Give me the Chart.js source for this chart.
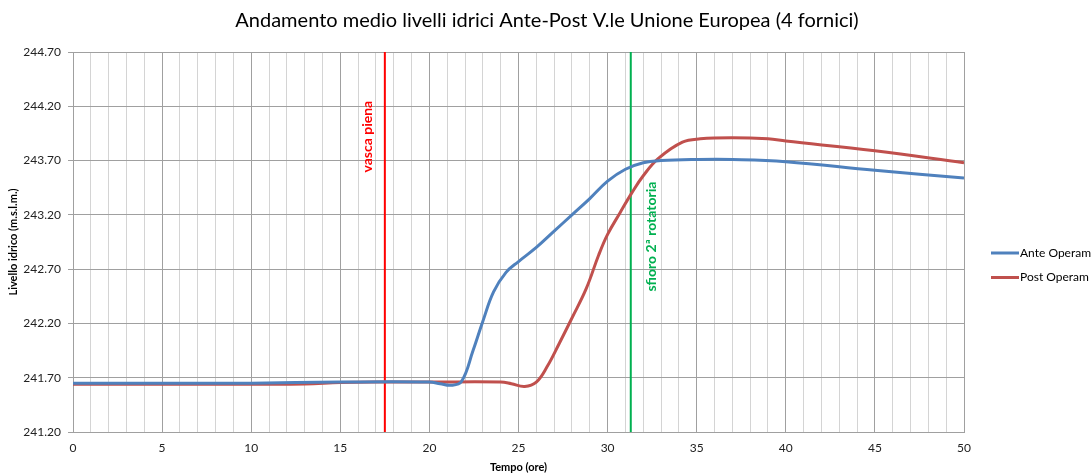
<!DOCTYPE html>
<html>
<head>
<meta charset="utf-8">
<script src="https://cdn.jsdelivr.net/npm/chart.js@4"></script>
<style>
  html, body { margin: 0; padding: 0; background: #fff; }
  #wrap { width: 1091px; height: 475px; }
</style>
</head>
<body>
<div id="wrap"><canvas id="grafico" width="1091" height="475"></canvas></div>
<script>
// dati
const anteOre = [0, 5, 10, 15, 20, 20.6, 21.2, 21.8, 22.45, 23.0, 23.6, 24.3, 25.0, 26.0, 27.0, 28.0, 29.0, 30.0, 31.0, 32.0, 33, 35, 37, 40, 45, 50];
const anteLivelli = [241.65, 241.65, 241.65, 241.66, 241.66, 241.645, 241.63, 241.665, 241.95, 242.22, 242.49, 242.67, 242.77, 242.90, 243.05, 243.20, 243.35, 243.51, 243.62, 243.68, 243.70, 243.71, 243.71, 243.69, 243.61, 243.54];

const postOre = [0, 5, 10, 13, 15, 17, 20, 24, 24.6, 25.35, 26.0, 26.6, 27.3, 28.0, 28.8, 29.5, 30.0, 30.7, 31.35, 32.0, 32.85, 34.2, 35.2, 37, 39, 40, 45, 50];
const postLivelli = [241.64, 241.64, 241.64, 241.642, 241.655, 241.66, 241.66, 241.66, 241.645, 241.62, 241.66, 241.80, 242.02, 242.25, 242.52, 242.83, 243.02, 243.22, 243.40, 243.56, 243.72, 243.87, 243.90, 243.91, 243.90, 243.88, 243.79, 243.68];

const serie = ["Ante Operam", "Post Operam"];
const eventi = ["vasca piena", "sfioro 2ª rotatoria"];
const eventiOre = [17.5, 31.3];
const eventiQuota = [243.92, 243.0]; // centro della scritta
const yTicks = [241.2, 241.7, 242.2, 242.7, 243.2, 243.7, 244.2, 244.7];

const FONT = "Lato, 'Liberation Sans', sans-serif";
const coloriSerie = ["#4f81bd", "#c0504d"];
const coloriEventi = ["#ff0000", "#00b050"];

const linea = (ore, valori) => ore.map((o, i) => ({ x: o, y: valori[i] }));

const datasets = [
  {
    label: serie[0],
    data: linea(anteOre, anteLivelli),
    borderColor: coloriSerie[0],
    borderWidth: 3,
    pointRadius: 0,
    tension: 0.4,
  },
  {
    label: serie[1],
    data: linea(postOre, postLivelli),
    borderColor: coloriSerie[1],
    borderWidth: 3,
    pointRadius: 0,
    tension: 0.4,
  },
];
eventiOre.forEach((o, i) => {
  datasets.push({
    label: eventi[i],
    data: [{ x: o, y: yTicks[0] }, { x: o, y: yTicks[yTicks.length - 1] }],
    borderColor: coloriEventi[i],
    borderWidth: 2,
    pointRadius: 0,
  });
});

// titolo, scritte verticali e legenda
const extra = {
  id: "extra",
  afterDraw(chart) {
    const c = chart.ctx;
    const sx = chart.scales.x, sy = chart.scales.y;
    c.save();
    c.fillStyle = "#000";
    c.font = "20px " + FONT;
    c.textAlign = "center";
    c.textBaseline = "middle";
    c.fillText("Andamento medio livelli idrici Ante-Post V.le Unione Europea (4 fornici)", 547, 21);

    const offs = [-17, 21];
    eventi.forEach((t, i) => {
      c.save();
      c.translate(sx.getPixelForValue(eventiOre[i]) + offs[i], sy.getPixelForValue(eventiQuota[i]));
      c.rotate(-Math.PI / 2);
      c.font = "bold 14px " + FONT;
      c.fillStyle = coloriEventi[i];
      c.fillText(t, 0, 0);
      c.restore();
    });

    c.textAlign = "left";
    c.font = "12px " + FONT;
    serie.forEach((t, i) => {
      const y = 253 + i * 24.5;
      c.strokeStyle = coloriSerie[i];
      c.lineWidth = 3;
      c.beginPath();
      c.moveTo(991, y);
      c.lineTo(1019, y);
      c.stroke();
      c.fillStyle = "#000";
      c.fillText(t, 1020, y);
    });
    c.restore();
  },
};

new Chart(document.getElementById("grafico"), {
  type: "line",
  data: { datasets },
  options: {
    responsive: false,
    animation: false,
    layout: { padding: { top: 52, right: 127, left: 0, bottom: 0 } },
    plugins: { legend: { display: false }, tooltip: { enabled: false } },
    scales: {
      x: {
        type: "linear",
        min: 0,
        max: 50,
        afterFit(s) { s.height = 43; },
        ticks: {
          stepSize: 1,
          autoSkip: false,
          maxRotation: 0,
          padding: 9,
          color: "#222",
          font: { family: FONT, size: 12 },
          callback: (v) => (v % 5 === 0 ? v : ""),
        },
        grid: {
          drawTicks: false,
          color: (ctx) => (ctx.tick && ctx.tick.value % 5 === 0 ? "#a0a0a0" : "#d4d4d4"),
        },
        border: { color: "#a0a0a0" },
        title: {
          display: true,
          text: "Tempo (ore)",
          color: "#000",
          font: { family: FONT, size: 11, weight: "bold" },
          padding: { top: 0, bottom: 1 },
        },
      },
      y: {
        min: yTicks[0],
        max: yTicks[yTicks.length - 1],
        afterFit(s) { s.width = 73; },
        afterBuildTicks(s) { s.ticks = yTicks.map((v) => ({ value: v })); },
        ticks: {
          padding: 7,
          color: "#222",
          font: { family: FONT, size: 12 },
          callback: (v) => Number(v).toFixed(2),
        },
        grid: { color: "#a0a0a0", tickLength: 5, tickColor: "#a0a0a0" },
        border: { color: "#a0a0a0" },
        title: {
          display: true,
          text: "Livello idrico (m.s.l.m.)",
          color: "#000",
          font: { family: FONT, size: 11, weight: "bold" },
          padding: { top: 7, bottom: 0 },
        },
      },
    },
  },
  plugins: [extra],
});
</script>
</body>
</html>
